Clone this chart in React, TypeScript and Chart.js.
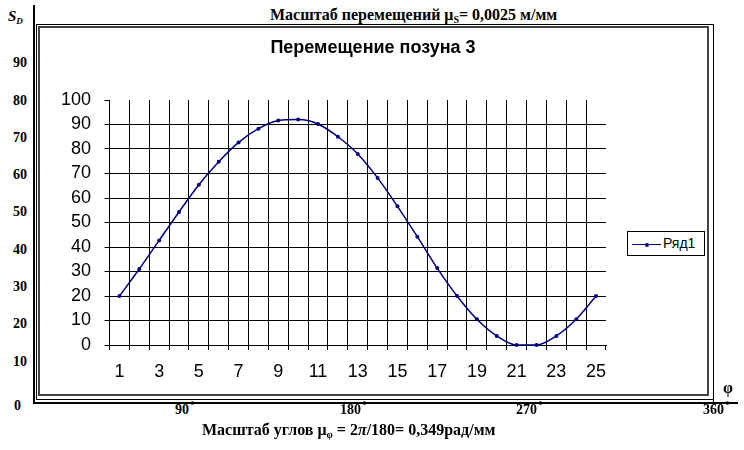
import React, { useEffect, useRef } from 'react';
import { Chart, registerables } from 'chart.js';

Chart.register(...registerables);

// ---------- data ----------
const CATEGORIES = ['1', '2', '3', '4', '5', '6', '7', '8', '9', '10', '11', '12', '13', '14', '15', '16', '17', '18', '19', '20', '21', '22', '23', '24', '25'];
const SERIES_NAME = 'Ряд1';
const DISPLACEMENT = [20, 31, 42.7, 54.3, 65.4, 74.8, 82.7, 88.3, 91.6, 92, 90.2, 85, 78, 68.2, 56.6, 44.2, 31.4, 20, 10.5, 3.7, 0, 0, 3.7, 10.5, 20];
const CHART_TITLE = 'Перемещение позуна 3';
const Y_MIN = 0;
const Y_MAX = 100;
const Y_STEP = 10;

// outer drawing scale labels
const OUTER_Y_LABELS = ['90', '80', '70', '60', '50', '40', '30', '20', '10'];
const OUTER_X_LABELS = ['90', '180', '270', '360'];

// ---------- layout ----------
const OUTER_Y_FIRST = 63.2;
const OUTER_Y_STEP = 37.3;
const OUTER_X_LEFT = [175, 340, 516, 703];
const SERIF = '"Liberation Serif", "Times New Roman", serif';
const SANS = '"Liberation Sans", Arial, sans-serif';
const NAVY = '#000080';

type TP = { x: number; y: number; size: number; align?: 'left' | 'right' | 'center'; style?: React.CSSProperties; children: React.ReactNode };
function T({ x, y, size, align = 'left', style, children }: TP) {
  const st: React.CSSProperties = {
    position: 'absolute',
    top: y - size / 2,
    fontFamily: SERIF,
    fontWeight: 'bold',
    fontSize: size,
    lineHeight: `${size}px`,
    whiteSpace: 'nowrap',
    color: '#000',
    ...style,
  };
  if (align === 'left') st.left = x;
  else if (align === 'right') st.right = 744 - x;
  else { st.left = x; st.transform = 'translateX(-50%)'; }
  return <div style={st}>{children}</div>;
}

function Box({ l, t, w, h, style }: { l: number; t: number; w: number; h: number; style?: React.CSSProperties }) {
  return <div style={{ position: 'absolute', left: l, top: t, width: w, height: h, boxSizing: 'border-box', ...style }} />;
}

export default function App() {
  const ref = useRef<HTMLCanvasElement | null>(null);

  useEffect(() => {
    if (!ref.current) return;
    const chart = new Chart(ref.current, {
      type: 'line',
      data: {
        labels: CATEGORIES,
        datasets: [
          {
            label: SERIES_NAME,
            data: DISPLACEMENT,
            borderColor: NAVY,
            backgroundColor: NAVY,
            borderWidth: 1.5,
            pointRadius: 2,
            pointHoverRadius: 2,
            pointBorderWidth: 0,
            pointBackgroundColor: NAVY,
            cubicInterpolationMode: 'monotone',
            clip: false,
            yAxisID: 'y',
          } as any,
        ],
      },
      options: {
        animation: false,
        responsive: false,
        maintainAspectRatio: false,
        devicePixelRatio: 1,
        events: [],
        layout: { padding: 0 },
        plugins: {
          legend: { display: false },
          tooltip: { enabled: false },
          title: {
            display: true,
            text: CHART_TITLE,
            color: '#000',
            font: { family: SANS, size: 18, weight: 'bold' },
            padding: { top: 9, bottom: 41.4 },
          },
        },
        scales: {
          x: {
            type: 'category',
            offset: true,
            grid: {
              offset: true,
              color: (ctx: any) => (ctx.type === 'tick' ? '#000' : 'rgba(0,0,0,0)'),
              tickColor: '#000',
              lineWidth: 1,
              tickLength: 5,
            },
            border: { color: '#000', width: 1 },
            ticks: {
              autoSkip: false,
              maxRotation: 0,
              minRotation: 0,
              color: '#000',
              padding: 11,
              font: { family: SANS, size: 18 },
              callback: (_v: any, i: number) => (i % 2 === 0 ? CATEGORIES[i] : ''),
            },
            afterFit: (s: any) => { s.height = 49; },
          },
          y: {
            min: Y_MIN,
            max: Y_MAX,
            grid: {
              color: (ctx: any) => (ctx.tick && ctx.tick.value === Y_MAX ? 'rgba(0,0,0,0)' : '#000'),
              tickColor: '#000',
              lineWidth: 1,
              tickLength: 5,
            },
            border: { color: '#000', width: 1 },
            ticks: {
              stepSize: Y_STEP,
              autoSkip: false,
              maxTicksLimit: 20,
              color: '#000',
              padding: 13.5,
              font: { family: SANS, size: 18 },
            },
            afterFit: (s: any) => { s.width = 69.5; },
          },
          // empty right-hand band reserved for the legend
          legendBand: {
            type: 'linear',
            position: 'right',
            display: true,
            grid: { display: false, drawTicks: false },
            border: { display: false },
            ticks: { display: false },
            afterFit: (s: any) => { s.width = 100; },
          },
        },
      } as any,
    });
    return () => chart.destroy();
  }, []);

  return (
    <div style={{ position: 'absolute', left: 0, top: 0, width: 744, height: 450, background: '#fff', overflow: 'hidden' }}>
      {/* outer drawing axes */}
      <Box l={33} t={5} w={2} h={399} style={{ background: '#000' }} />
      <Box l={33} t={401.5} w={705} h={2.5} style={{ background: '#000' }} />
      {/* chart frames */}
      <Box l={36} t={24} w={678} h={376} style={{ border: '1px solid #000' }} />
      <Box l={713} t={24} w={1} h={379} style={{ background: '#000' }} />
      <Box l={38} t={26} w={671} h={370} style={{ border: '2px solid #444', background: '#fff' }} />
      <canvas ref={ref} width={666} height={366} style={{ position: 'absolute', left: 40, top: 28, width: 666, height: 366 }} />

      {/* legend */}
      <div style={{ position: 'absolute', left: 627, top: 231, width: 78, height: 25, border: '1px solid #000', boxSizing: 'border-box', background: '#fff' }}>
        <div style={{ position: 'absolute', left: 4, top: 11.5, width: 29, height: 0, borderTop: `1.5px solid ${NAVY}` }} />
        <div style={{ position: 'absolute', left: 16.5, top: 10.5, width: 4, height: 4, borderRadius: 2, background: NAVY }} />
        <div style={{ position: 'absolute', left: 35, top: 3, fontFamily: SANS, fontSize: 14, lineHeight: '17px', color: '#000' }}>{SERIES_NAME}</div>
      </div>

      {/* outer labels */}
      <T x={8} y={16} size={15} style={{ fontStyle: 'italic' }}>
        S<span style={{ fontSize: 9, verticalAlign: -3 }}>D</span>
      </T>
      {OUTER_Y_LABELS.map((lab, i) => (
        <T key={lab} x={27} y={OUTER_Y_FIRST + OUTER_Y_STEP * i} size={14} align="right">{lab}</T>
      ))}
      <T x={14} y={406} size={14}>0</T>
      {OUTER_X_LABELS.map((lab, i) => (
        <T key={lab} x={OUTER_X_LEFT[i]} y={410} size={14}>
          {lab}<span style={{ fontSize: 12, position: 'relative', top: -5, marginLeft: 1 }}>°</span>
        </T>
      ))}
      <T x={723} y={388} size={16}>φ</T>
      <T x={270} y={15} size={16}>
        Масштаб перемещений μ<span style={{ fontSize: 10, verticalAlign: -3 }}>S</span>= 0,0025 м/мм
      </T>
      <T x={202} y={430} size={16}>
        Масштаб углов μ<span style={{ fontSize: 10, verticalAlign: -3 }}>φ</span> = 2<i>π</i>/180= 0,349рад/мм
      </T>
    </div>
  );
}
